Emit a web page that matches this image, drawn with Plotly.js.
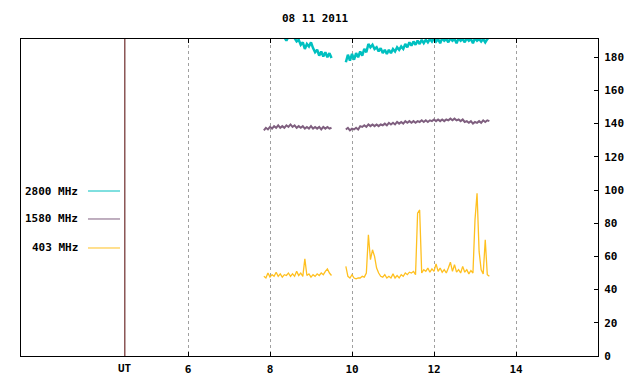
<!DOCTYPE html>
<html>
<head>
<meta charset="utf-8">
<script src="https://cdn.plot.ly/plotly-3.0.1.min.js"></script>
<style>html,body{margin:0;padding:0;background:#fff;}#chart{width:640px;height:384px;}</style>
</head>
<body>
<div id="chart"></div>
<script>
// Time grid (UT hours); 9.68 marks the data gap
var times = [7.85,7.90,7.95,8.00,8.05,8.10,8.15,8.20,8.25,8.30,8.35,8.40,8.45,8.50,8.55,8.60,8.65,8.70,8.75,8.80,8.85,8.90,8.95,9.00,9.05,9.10,9.15,9.20,9.25,9.30,9.35,9.40,9.45,9.50,
  9.68,
  9.85,9.90,9.95,10.00,10.05,10.10,10.15,10.20,10.25,10.30,10.35,10.40,10.45,10.50,10.55,10.60,10.65,10.70,10.75,10.80,10.85,10.90,10.95,11.00,11.05,11.10,11.15,11.20,11.25,11.30,11.35,11.40,11.45,11.50,11.55,11.60,11.65,11.70,11.75,11.80,11.85,11.90,11.95,12.00,12.05,12.10,12.15,12.20,12.25,12.30,12.35,12.40,12.45,12.50,12.55,12.60,12.65,12.70,12.75,12.80,12.85,12.90,12.95,13.00,13.05,13.10,13.15,13.20,13.25,13.30,13.35];

var flux2800 = [196,197,195,196,195,196,194,195,194,193,192,190,192.5,193,192.5,191.5,189.5,190.5,187.5,189,185,188,186.5,189,185.5,183,184.5,181,183.5,180.5,183,180,182.5,179.5,
  null,
  177,181.5,178,182,178.5,182.5,180,183.5,181,185,183,188,186,187.5,185,186,183.5,185.5,182.5,184.5,182,184.5,182.5,185,183.5,186,184.5,186.5,185,188,186,189,187,189.5,187.5,190,188,190.5,188.5,190.5,189,191,189.5,191.5,189.5,191,188.5,191.5,190,191,189,191.5,190,191,188.5,191.5,190,191,189,191.5,190,191,188.5,191.5,190,191,189.5,191,189,191,192];

var flux1580 = [136,137.5,136.5,138,137,138.5,137.5,139,137.5,138.5,137.5,139,138,139.5,138,139,137.5,138.5,137.5,138.5,137,138,137,138.5,137,138,137,138,136.5,138,137,138,137,137.5,
  null,
  136.5,137.5,136,137,136.5,137.5,136.5,138.5,138,139,138,139.5,138.5,139.5,138.5,139.5,138.5,139.5,139,140,139,140.5,139.5,140.5,139.5,141,140,141,140,141.5,140.5,141.5,140.5,141.5,140.5,141.5,141,142,141,142,141,142,141.5,142.5,141.5,142.5,141.5,142.5,141.5,142.5,142,143,142,143,142,142.5,141.5,142.5,141,141.5,140.5,141.5,140,141,140.5,141.5,140.5,142,141,142,141.5];

var flux403 = [48,47,50,47.5,49,48,50.5,48,49.5,47.5,49,48.5,50,48,49.5,48,51,48.5,50,48,58.5,48.5,49.5,47.5,49,48,49.5,48.5,50,49,51,52.5,50,48.5,
  null,
  54,48,47,49,47,46.5,47,47,48,47.5,50,73,58,64,60,53,50,48,47.5,49,47,48,47,49.5,47,48.5,47,49,48,50,49,50.5,50,51,49,86,88,50,52,51,53,50.5,52.5,51,55.5,51,53,50.5,52,50,53,56.5,51,55,50.5,52,50,54,50.5,52,49.5,51.5,50,82,98,63,52,49.5,70,49,48];

var seriesNames = ["2800 MHz","1580 MHz","403 MHz"];
var seriesColors = ["#00c0c0","#7f5f7f","#ffc020"];
var xTicks = [6,8,10,12,14];
var chartTitle = "08 11 2011";

var fnt = {family:"DejaVu Sans Mono", size:11, color:"#000", weight:"bold"};
var allFlux = [flux2800, flux1580, flux403];
var widths = [2.5, 2, 1.3];

var traces = allFlux.map(function(v,i){
  return {x:times, y:v, type:"scatter", mode:"lines", name:seriesNames[i],
    line:{color:seriesColors[i], width:widths[i]}, connectgaps:false, hoverinfo:"skip"};
});

var legY = [0.5205, 0.4322, 0.3407];
var annotations = [
  {text:chartTitle, xref:"paper", yref:"paper", x:0.51, y:(356-19)/317, xanchor:"center", yanchor:"middle", showarrow:false, font:fnt},
  {text:"UT", xref:"x", yref:"paper", x:4.46, y:-0.038, xanchor:"center", yanchor:"middle", showarrow:false, font:fnt}
];
var shapes = [
  {type:"line", xref:"x", yref:"paper", x0:4.46, x1:4.46, y0:0, y1:1, line:{color:"#500000", width:1}}
];
seriesNames.forEach(function(n,i){
  annotations.push({text:n, xref:"paper", yref:"paper", x:0.1023, y:legY[i], xanchor:"right", yanchor:"middle", showarrow:false, font:fnt});
  shapes.push({type:"line", xref:"paper", yref:"paper", x0:0.1161, x1:0.1716, y0:legY[i], y1:legY[i], line:{color:seriesColors[i], width:1}});
});

var layout = {
  width:640, height:384,
  margin:{l:21, r:42, t:39, b:28, pad:0},
  paper_bgcolor:"#fff", plot_bgcolor:"#fff",
  showlegend:false, hovermode:false,
  font:fnt,
  xaxis:{range:[1.927,16], tickvals:xTicks, ticktext:xTicks.map(String), ticks:"inside", ticklen:4, tickcolor:"#000",
    showline:true, linecolor:"#000", linewidth:1, mirror:"ticks", showgrid:true, gridcolor:"#a0a0a0", griddash:"dot", gridwidth:1,
    zeroline:false, tickfont:fnt, ticklabelstandoff:3, fixedrange:true},
  yaxis:{range:[0,191], dtick:20, tick0:0, side:"right", ticks:"inside", ticklen:4, tickcolor:"#000",
    showline:true, linecolor:"#000", linewidth:1, mirror:true, showgrid:false, zeroline:false, tickfont:fnt, ticklabelstandoff:3, fixedrange:true},
  annotations:annotations,
  shapes:shapes
};

Plotly.newPlot("chart", traces, layout, {staticPlot:true, displayModeBar:false});
</script>
</body>
</html>
